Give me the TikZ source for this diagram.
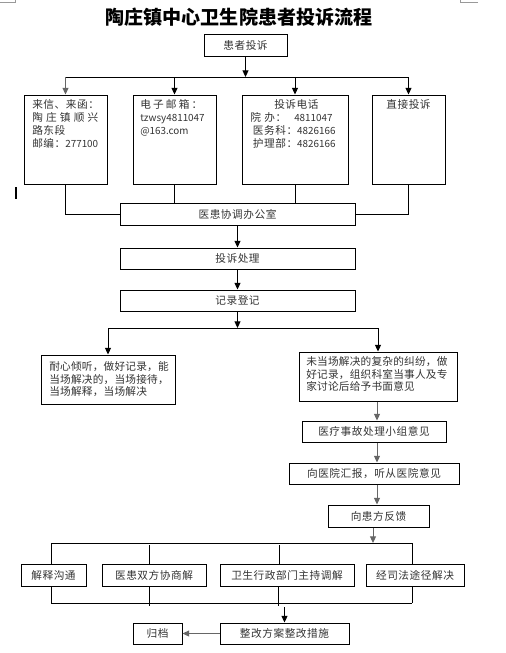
\documentclass[tikz,border=0pt]{standalone}
\usepackage{fontspec}
\setmainfont{Noto Sans CJK SC}
\usetikzlibrary{arrows.meta}

\newcommand\bodyfont{\fontsize{8}{9.75}\selectfont\addfontfeature{LetterSpace=5}}
\newcommand\tallfont{\fontsize{8}{9.4}\selectfont\addfontfeature{LetterSpace=2}}
\newcommand\nosp{\fontsize{7.4}{9.75}\selectfont\addfontfeature{LetterSpace=0}}

\tikzset{
  box/.style={draw, line width=0.75pt, inner sep=0pt, text=black!80, font=\bodyfont},
  sz/.style 2 args={minimum width=#1*0.75pt, minimum height=#2*0.75pt},
  txt/.style={inner sep=0pt, text=black!80, font=\bodyfont, align=left},
  link/.style={line width=0.75pt},
  arr/.style={link, -{Triangle[length=5pt, width=4.5pt]}},
  grey/.style={draw=black!60},
}

\begin{document}
\begin{tikzpicture}[x=0.75pt, y=-0.75pt]
  \useasboundingbox (0,0) rectangle (506,653);
  % page marks
  \draw[black!40, line width=0.5pt] (0,2) -- (15,2) -- (15,0);
  \draw[black!40, line width=0.5pt] (478,2) -- (460,2) -- (460,0);
  \draw[line width=1.5pt] (16,187) -- (16,199);

  \node[font=\fontsize{14.3}{16}\selectfont\bfseries] (title) at (239,17.5) {陶庄镇中心卫生院患者投诉流程};

  % complaint channels
  \node[box, sz={83}{22}] (complain) at (245.5,45) {患者投诉};
  \node[box, sz={83}{89}] (mail) at (65.5,139.5) {};
  \node[box, sz={83}{89}] (email) at (174.5,139.5) {};
  \node[box, sz={106}{89}] (phone) at (295,139.5) {};
  \node[box, sz={73}{89}] (direct) at (408.5,139.5) {};

  \node[txt, anchor=north west] (mailtxt) at (32,99.5)
    {来信、来函：\\\makebox[49.5pt][s]{陶\hfil 庄\hfil 镇\hfil 顺\hfil 兴}\\路东段\\邮编：{\nosp 277100}};
  \node[txt, anchor=north west] (emailtxt) at (140,99.5)
    {\makebox[46.5pt][s]{电\hfil 子\hfil 邮\hfil 箱\hfil ：}\\{\nosp tzwsy4811047}\\{\nosp @163.com}};
  \node[txt, anchor=north west] (phonetxt) at (250,99.5)
    {\hspace*{18pt}投诉电话\\\makebox[27pt][s]{院\hfil 办：}\hspace{6pt}{\nosp 4811047}\\
     \hspace*{2pt}医务科：{\nosp 4826166}\\\hspace*{2pt}护理部：{\nosp 4826166}};
  \node[txt, anchor=north] (directtxt) at (408.5,99.5) {直接投诉};

  \node[box, sz={235}{22}] (office) at (237.5,214) {医患协调办公室};
  \node[box, sz={235}{21}] (handle) at (237.5,258.5) {投诉处理};
  \node[box, sz={235}{21}] (record) at (237.5,300.5) {记录登记};

  % two ways
  \node[box, sz={134}{49}] (onsite) at (108,379.5) {};
  \node[txt, font=\tallfont, anchor=north west] (onsitetxt) at (49,361.5)
    {耐心倾听，做好记录，能\\当场解决的，当场接待，\\当场解释，当场解决};
  \node[box, sz={158}{49}] (expert) at (378,376.5) {};
  \node[txt, font=\tallfont, anchor=north west] (experttxt) at (306,356.5)
    {未当场解决的复杂的纠纷，做\\好记录，组织科室当事人及专\\家讨论后给予书面意见};

  \node[box, sz={144}{21}] (group) at (374,431.5) {医疗事故处理小组意见};
  \node[box, sz={170}{21}] (report) at (374,473.5) {向医院汇报，听从医院意见};
  \node[box, sz={101}{22}] (feedback) at (378.5,516) {向患方反馈};

  % outcomes
  \node[box, sz={65}{22}] (explain) at (53.5,575) {解释沟通};
  \node[box, sz={104}{22}] (negotiate) at (154,575) {医患双方协商解};
  \node[box, sz={134}{22}] (mediate) at (287,575) {卫生行政部门主持调解};
  \node[box, sz={98}{22}] (legal) at (415,575) {经司法途径解决};
  \node[box, sz={129}{21}] (fix) at (284.5,633.5) {整改方案整改措施};
  \node[box, sz={49}{21}] (archive) at (157.5,633.5) {归档};

  \coordinate (fork) at (245.5,77);
  \draw[arr] (complain) -- (fork);
  \draw[link] (mail.north |- fork) -- (direct.north |- fork);
  \draw[arr, grey] (mail.north |- fork) -- (mail);
  \foreach \b in {email,phone,direct}
    \draw[arr] (\b.north |- fork) -- (\b);

  \draw[link] (mail.south) |- (office.west);
  \draw[link] (email) -- (email |- office.north);
  \draw[link] (phone) -- (phone |- office.north);
  \draw[link] (direct.south) |- (office.east);
  \draw[arr] (office) -- (handle);
  \draw[arr] (handle) -- (record);

  \coordinate (fork2) at (237.5,328);
  \draw[arr] (record) -- (fork2);
  \draw[link] (onsite.north |- fork2) -- (expert.north |- fork2);
  \draw[arr] (onsite.north |- fork2) -- (onsite);
  \draw[arr] (expert.north |- fork2) -- (expert);

  \coordinate (col) at (377,0);
  \draw[arr, grey] (col |- expert.south) -- (col |- group.north);
  \draw[arr, grey] (col |- group.south) -- (col |- report.north);
  \draw[arr, grey] (col |- report.south) -- (col |- feedback.north);

  \coordinate (fork3) at (373,543);
  \coordinate (d1) at (51,543);
  \coordinate (d2) at (149,545);
  \coordinate (d3) at (279,545);
  \coordinate (d4) at (412,543);
  \draw[arr, grey] (feedback.south -| fork3) -- (fork3);
  \draw[link] (d1) -- (d4);
  \foreach \d/\b in {d1/explain, d2/negotiate, d3/mediate, d4/legal}
    \draw[link] (\d) -- (\d |- \b.north);

  \coordinate (u1) at (51,603);
  \coordinate (u2) at (149,606);
  \coordinate (u3) at (278,606);
  \coordinate (u4) at (412,603);
  \draw[link] (u1) -- (u4);
  \foreach \u/\b in {u1/explain, u2/negotiate, u3/mediate, u4/legal}
    \draw[link] (\u |- \b.south) -- (\u);

  \coordinate (merge) at (284.5,607);
  \draw[arr] (merge) -- (fix);
  \draw[arr, grey] (fix) -- (archive);
\end{tikzpicture}
\end{document}
